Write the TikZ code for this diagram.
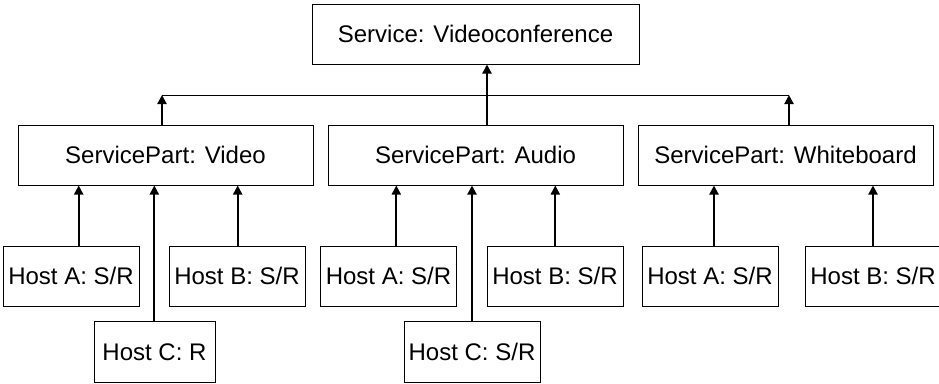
\documentclass[tikz,border=0pt]{standalone}
\usepackage{fontspec}
\setmainfont{Liberation Sans}
\usetikzlibrary{arrows.meta}
\begin{document}
\begin{tikzpicture}[x=1pt,y=-1pt,
  box/.style={draw=black,line width=1pt,inner sep=0pt,minimum height=60pt,
    text height=17.2pt,text depth=0pt,font=\fontsize{24}{28}\selectfont},
  partbox/.style={box,minimum width=295pt},
  hostbox/.style={box,minimum width=136pt},
  arr/.style={line width=2pt,-{Triangle[width=9pt,length=9pt]}},
  bus/.style={line width=1pt}]
\useasboundingbox (0,0) rectangle (939,383);
\node[box,minimum width=327pt] (top) at (475.5,34) {Service: Videoconference};
\node[partbox] (video) at (165.5,155) {ServicePart: Video};
\node[partbox] (audio) at (475.5,155) {ServicePart: Audio};
\node[partbox] (wb) at (785.5,155) {ServicePart: Whiteboard};
\node[hostbox] (vA) at (71,276) {Host A: S/R};
\node[hostbox] (vB) at (237,276) {Host B: S/R};
\node[hostbox,minimum width=121pt,minimum height=61pt] (vC) at (154.5,351.5) {Host C: R};
\node[hostbox] (aA) at (388.5,276) {Host A: S/R};
\node[hostbox] (aB) at (555,276) {Host B: S/R};
\node[hostbox,minimum height=61pt] (aC) at (472,351.5) {Host C: S/R};
\node[hostbox] (wA) at (710,276) {Host A: S/R};
\node[hostbox] (wB) at (873,276) {Host B: S/R};
% bus
\coordinate (busL) at (162,95);
\coordinate (busR) at (789,95);
\draw[bus] (busL) -- (busR);
\draw[arr] (video.north -| busL) -- (busL);
\draw[arr] (wb.north -| busR) -- (busR);
\draw[arr] ([xshift=11.5pt]audio.north) -- ([xshift=11.5pt]audio.north |- top.south);
% hosts
\draw[arr] ([xshift=7.7pt]vA.north) -- ([xshift=7.7pt]vA.north |- video.south);
\draw[arr] ([xshift=0.7pt]vB.north) -- ([xshift=0.7pt]vB.north |- video.south);
\draw[arr] ([xshift=-0.2pt]vC.north) -- ([xshift=-0.2pt]vC.north |- video.south);
\draw[arr] ([xshift=7.8pt]aA.north) -- ([xshift=7.8pt]aA.north |- audio.south);
\draw[arr] ([xshift=0.3pt]aB.north) -- ([xshift=0.3pt]aB.north |- audio.south);
\draw[arr] (aC.north) -- (aC.north |- audio.south);
\draw[arr] ([xshift=4pt]wA.north) -- ([xshift=4pt]wA.north |- wb.south);
\draw[arr] (wB.north) -- (wB.north |- wb.south);
\end{tikzpicture}
\end{document}
